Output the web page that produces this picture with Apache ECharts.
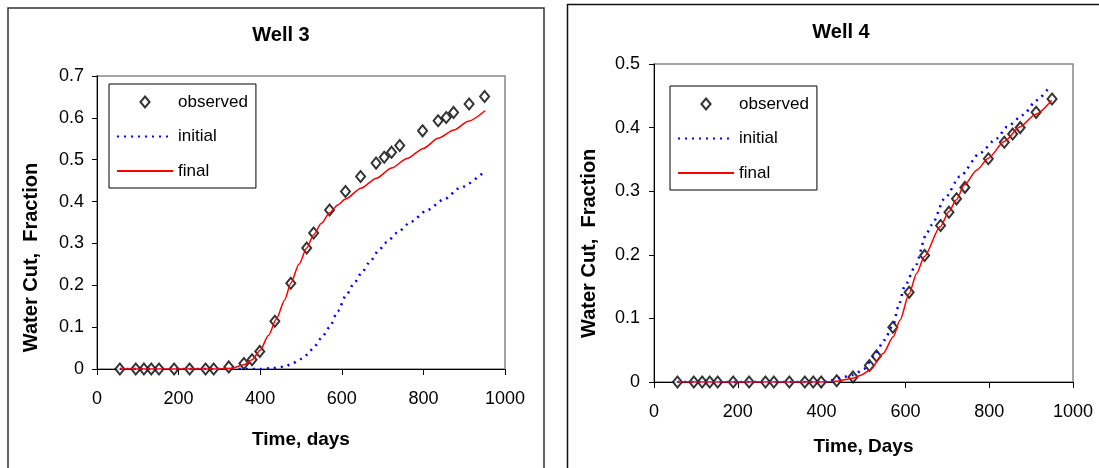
<!DOCTYPE html>
<html>
<head>
<meta charset="utf-8">
<script src="https://cdn.jsdelivr.net/npm/echarts@6/dist/echarts.min.js"></script>
<style>
html,body{margin:0;padding:0;background:#fff;}
#c{width:1099px;height:468px;}
</style>
</head>
<body>
<div id="c"></div>
<script>
// ---- data ----
const times = [56,95,115,133,152,189,227,266,286,323,360,380,399,436,475,514,531,570,609,646,684,704,722,742,798,836,856,874,912,950];
const well3Observed = [0,0,0,0,0,0,0,0,0,0.005,0.013,0.022,0.042,0.114,0.205,0.289,0.325,0.380,0.424,0.460,0.492,0.506,0.518,0.534,0.569,0.593,0.601,0.613,0.633,0.651];
const well4Observed = [0,0,0,0,0,0,0,0,0,0,0,0,0,0.002,0.008,0.026,0.041,0.086,0.141,0.199,0.246,0.267,0.288,0.306,0.351,0.377,0.390,0.400,0.424,0.445];

const well3InitialT = [56,200,300,400,430,460,480,500,515,530,550,570,590,610,630,650,670,690,710,735,770,810,850,890,950];
const well3InitialV = [0,0,0,0,0.002,0.006,0.014,0.024,0.034,0.05,0.074,0.100,0.138,0.175,0.205,0.232,0.258,0.283,0.303,0.325,0.352,0.380,0.405,0.433,0.472];
const well3FinalT = [56,200,300,330,360,380,400,420,440,460,475,495,514,531,550,570,590,609,647,685,722,760,800,836,875,910,951];
const well3FinalV = [0,0,0,0.002,0.01,0.022,0.045,0.08,0.12,0.165,0.205,0.25,0.289,0.321,0.348,0.373,0.392,0.406,0.432,0.456,0.48,0.503,0.527,0.551,0.571,0.592,0.617];

const well4InitialT = [56,200,400,420,440,475,500,525,550,571,583,598,623,651,663,694,730,778,818,842,881,913,945];
const well4InitialV = [0,0,0,0.002,0.006,0.011,0.02,0.04,0.066,0.09,0.118,0.15,0.181,0.234,0.247,0.289,0.323,0.360,0.383,0.401,0.42,0.443,0.465];
const well4FinalT = [56,200,400,434,474,495,516,547,571,587,609,627,645,683,704,721,741,770,798,836,873,911,949];
const well4FinalV = [0,0,0,0.001,0.006,0.011,0.019,0.045,0.071,0.097,0.139,0.171,0.197,0.244,0.268,0.286,0.310,0.333,0.352,0.378,0.401,0.421,0.443];

const xTicks = {min:0, max:1000, interval:200};
const well3Y = {min:0, max:0.7, interval:0.1};
const well4Y = {min:0, max:0.5, interval:0.1};
const seriesNames = ['observed','initial','final'];

// ---- build ----
const FONT = 'Liberation Sans, Arial, sans-serif';
const zip = (a,b) => a.map((v,i)=>[v,b[i]]);

function xAxis(gi, name, gap){
  return {type:'value', gridIndex:gi, min:xTicks.min, max:xTicks.max, interval:xTicks.interval,
    name:name, nameLocation:'middle', nameGap:gap,
    nameTextStyle:{fontFamily:FONT, fontSize:19, fontWeight:'bold', color:'#000'},
    axisLine:{show:true, lineStyle:{color:'#000', width:1}},
    axisTick:{show:true, length:6, lineStyle:{color:'#000'}},
    axisLabel:{fontFamily:FONT, fontSize:18, color:'#000', margin:21, formatter:v=>String(v)},
    splitLine:{show:false}};
}
function yAxis(gi, cfg, margin){
  return {type:'value', gridIndex:gi, min:cfg.min, max:cfg.max, interval:cfg.interval,
    axisLine:{show:true, lineStyle:{color:'#000', width:1}},
    axisTick:{show:true, length:5, lineStyle:{color:'#000'}},
    axisLabel:{fontFamily:FONT, fontSize:18, color:'#000', margin:margin},
    splitLine:{show:false}};
}
function obsSeries(gi, ys){
  return {name:seriesNames[0], type:'scatter', xAxisIndex:gi, yAxisIndex:gi, data:zip(times, ys),
    symbol:'diamond', symbolSize:[9,11], z:2,
    itemStyle:{color:'#fff', borderColor:'#000', borderWidth:2}};
}
function initSeries(gi, t, v){
  return {name:seriesNames[1], type:'line', xAxisIndex:gi, yAxisIndex:gi, data:zip(t,v),
    symbol:'none', smooth:0.25, smoothMonotone:'x', z:3,
    itemStyle:{color:'#0000ff'},
    lineStyle:{color:'#0000ff', width:2.5, type:[2,5], cap:'butt'}};
}
function finalSeries(gi, t, v){
  return {name:seriesNames[2], type:'line', xAxisIndex:gi, yAxisIndex:gi, data:zip(t,v),
    symbol:'none', smooth:0.25, smoothMonotone:'x', z:4,
    itemStyle:{color:'#ff0000'},
    lineStyle:{color:'#ff0000', width:1.5}};
}
function legend(left, top){
  return {orient:'vertical', left:left, top:top,
    data:[
      {name:seriesNames[0], icon:'path://M5,0 L10,6 L5,12 L0,6 Z', itemStyle:{borderWidth:2}},
      {name:seriesNames[1], itemStyle:{opacity:0}},
      {name:seriesNames[2], itemStyle:{opacity:0}}
    ],
    symbolKeepAspect:true,
    itemWidth:56, itemHeight:11, itemGap:14.5, padding:[8,8,7,7],
    borderColor:'#000', borderWidth:1, backgroundColor:'#fff',
    selectedMode:false,
    textStyle:{fontFamily:FONT, fontSize:17, color:'#000', lineHeight:20}};
}

const option = {
  animation:false,
  backgroundColor:'#fff',
  title:[
    {text:'Well 3', left:276, top:20, textAlign:'center',
     textStyle:{fontFamily:FONT, fontSize:20, fontWeight:'bold', color:'#000'}},
    {text:'Well 4', left:836, top:17, textAlign:'center',
     textStyle:{fontFamily:FONT, fontSize:20, fontWeight:'bold', color:'#000'}}
  ],
  grid:[
    {left:97, top:76, width:408, height:293, show:true, borderColor:'#888', borderWidth:1.5, backgroundColor:'transparent'},
    {left:654, top:64, width:419, height:318, show:true, borderColor:'#888', borderWidth:1.5, backgroundColor:'transparent'}
  ],
  xAxis:[xAxis(0,'Time, days',61), xAxis(1,'Time, Days',55)],
  yAxis:[yAxis(0,well3Y,13), yAxis(1,well4Y,14)],
  legend:[legend(109,84), legend(670,86)],
  graphic:[
    {type:'rect', z:-10, shape:{x:8, y:8, width:536, height:480}, style:{fill:'none', stroke:'#333', lineWidth:1.5}},
    {type:'rect', z:-10, shape:{x:567.5, y:4.5, width:560, height:480}, style:{fill:'none', stroke:'#111', lineWidth:1.5}},
    {type:'text', x:31, y:257.5, rotation:Math.PI/2,
     style:{text:'Water Cut,  Fraction', font:'bold 20px '+FONT, fill:'#000', align:'center', verticalAlign:'middle', textAlign:'center', textVerticalAlign:'middle'}},
    {type:'text', x:589.5, y:243.3, rotation:Math.PI/2,
     style:{text:'Water Cut,  Fraction', font:'bold 20px '+FONT, fill:'#000', align:'center', verticalAlign:'middle', textAlign:'center', textVerticalAlign:'middle'}}
  ],
  series:[
    obsSeries(0, well3Observed),
    initSeries(0, well3InitialT, well3InitialV),
    finalSeries(0, well3FinalT, well3FinalV),
    obsSeries(1, well4Observed),
    initSeries(1, well4InitialT, well4InitialV),
    finalSeries(1, well4FinalT, well4FinalV)
  ]
};
const chart = echarts.init(document.getElementById('c'), null, {renderer:'canvas'});
chart.setOption(option);
</script>
</body>
</html>
